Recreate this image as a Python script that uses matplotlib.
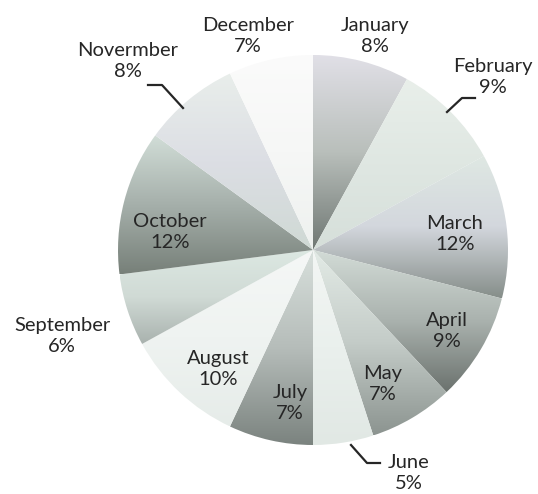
import numpy as np
import matplotlib
matplotlib.use("Agg")
import matplotlib.pyplot as plt
from matplotlib.colors import to_rgb

# monthly share (%)
months = ["January", "February", "March", "April", "May", "June",
          "July", "August", "September", "October", "Novermber", "December"]
shares = [8, 9, 12, 9, 7, 5, 7, 10, 6, 12, 8, 7]

# shading of each slice, top -> middle -> bottom of the slice
shades = [
    ("#e1e0e7", "#b9bfbb", "#6f7773"),   # Jan
    ("#e9efea", "#dfe7e2", "#d6dfda"),   # Feb
    ("#dfe8e3", "#d3d7dd", "#868e8a"),   # Mar
    ("#d3dcd7", "#aab2ae", "#6b726e"),   # Apr
    ("#e3ebe6", "#c4ccc8", "#8c9490"),   # May
    ("#f3f6f4", "#eaf0ed", "#e1e8e4"),   # Jun
    ("#d8e0dc", "#b6bdba", "#7b837f"),   # Jul
    ("#f5f7f6", "#eff3f1", "#e6ece9"),   # Aug
    ("#dce8e2", "#d0dad5", "#a9b2ae"),   # Sep
    ("#d2ded8", "#a6b0ab", "#778079"),   # Oct
    ("#e9eeeb", "#dcdee4", "#cfd9d4"),   # Nov
    ("#fbfbfb", "#f6f7f6", "#eef1ef"),   # Dec
]

W, H = 538, 494
cx, cy, R = 313, 250, 195

# label anchor (pixels)
label_px = [(375, 36), (493, 77), (455, 234), (447, 331), (383, 384), (409, 473),
            (290, 403), (218, 369), (62, 336), (170, 232), (128, 61), (248, 36)]

# leader lines (pixels)
leaders = {
    "February": [(447, 112), (462, 98), (475, 98)],
    "June": [(351, 445), (367, 463), (380, 463)],
    "Novermber": [(148, 85), (162, 85), (183, 108)],
}

fig = plt.figure(figsize=(W / 100, H / 100), dpi=100)
ax = fig.add_axes([0, 0, 1, 1])

wedges, _ = ax.pie(shares, center=(cx, H - cy), radius=R, startangle=90,
                   counterclock=False, frame=True,
                   wedgeprops=dict(linewidth=0, facecolor="none"))
ax.set_xlim(0, W)
ax.set_ylim(0, H)
ax.set_aspect("equal")
ax.axis("off")


def gradient(stops, n=200):
    cols = np.array([to_rgb(c) for c in stops])
    t = np.linspace(0, 1, n)
    pos = np.linspace(0, 1, len(stops))
    img = np.stack([np.interp(t, pos, cols[:, k]) for k in range(3)], axis=-1)
    return img[:, None, :]


for w, stops in zip(wedges, shades):
    ext = w.get_path().get_extents()
    im = ax.imshow(gradient(stops), extent=(ext.x0, ext.x1, ext.y0, ext.y1),
                   origin="upper", aspect="auto", interpolation="bilinear", zorder=1)
    im.set_clip_path(w)

for name, share, (px, py) in zip(months, shares, label_px):
    ax.text(px, H - py, f"{name}\n{share}%", ha="center", va="center",
            fontsize=14.5, family="Lato", color="#262626", linespacing=1.3,
            zorder=3)

for pts in leaders.values():
    xs = [p[0] for p in pts]
    ys = [H - p[1] for p in pts]
    ax.plot(xs, ys, color="#262626", lw=1.6, zorder=3)

fig.savefig("out.png", dpi=100)
